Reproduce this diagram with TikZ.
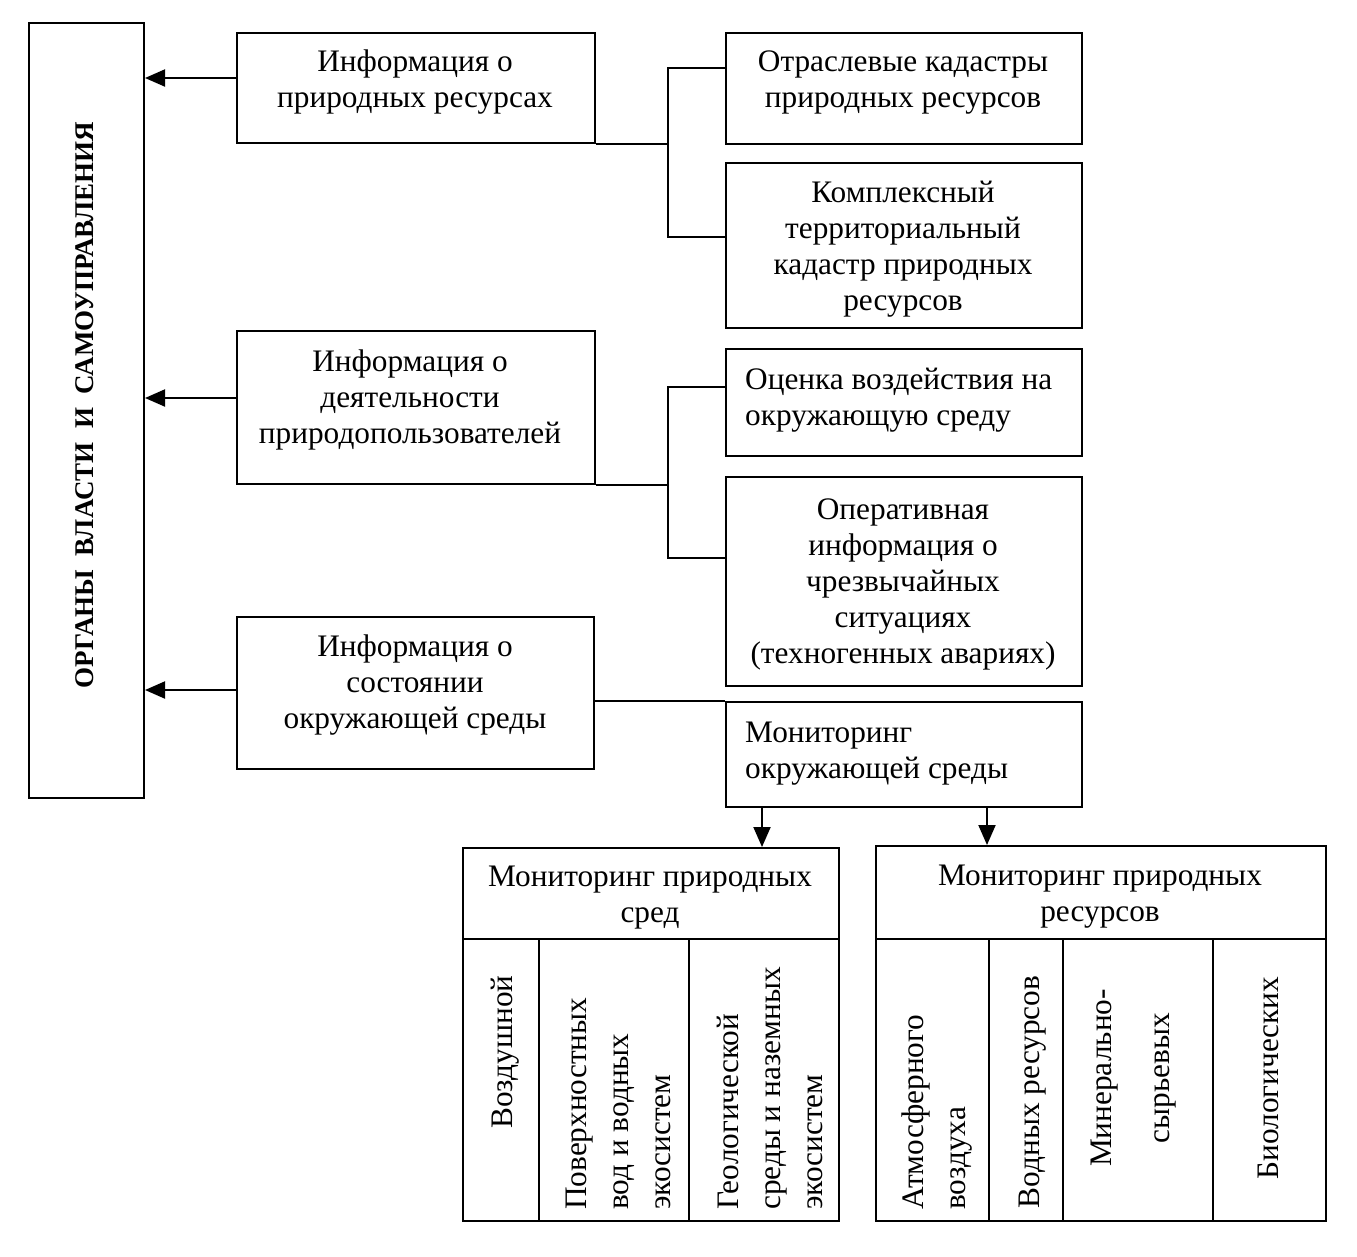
\documentclass[tikz,border=0pt]{standalone}
\usepackage{fontspec}
\setmainfont{Liberation Serif}
\usetikzlibrary{arrows.meta,calc}
\begin{document}
\begin{tikzpicture}[x=1pt,y=-1pt,
  box/.style={draw, line width=2pt, inner sep=0pt, anchor=north west},
  txt/.style={font=\fontsize{31.3}{36}\selectfont, align=center, inner sep=0pt},
  txtl/.style={txt, align=left, anchor=west},
  rot/.style={rotate=90, font=\fontsize{31.3}{42}\selectfont, inner sep=0pt},
  wire/.style={line width=2pt},
  arr/.style={line width=2pt, -{Triangle[length=20pt,width=17pt]}},
]
\useasboundingbox[fill=white] (0,0) rectangle (1357,1256);

% left vertical box
\node[box, minimum width=115pt, minimum height=775pt] (org) at (28,22) {};
\node[rotate=90, font=\fontsize{27}{30}\selectfont\bfseries, inner sep=0pt] (orgt) at (85,405) {ОРГАНЫ~~ВЛАСТИ~~И~~САМОУПРАВЛЕНИЯ};

% information boxes
\node[box, minimum width=358pt, minimum height=110pt] (A) at (236,32) {};
\node[txt] (At) at (415,82) {Информация о\\природных ресурсах};
\node[box, minimum width=358pt, minimum height=153pt] (B) at (236,330) {};
\node[txt] (Bt) at (410,400) {Информация о\\деятельности\\природопользователей};
\node[box, minimum width=357pt, minimum height=152pt] (C) at (236,616) {};
\node[txt] (Ct) at (415,685) {Информация о\\состоянии\\окружающей среды};

% right boxes
\node[box, minimum width=356pt, minimum height=111pt] (R1) at (725,32) {};
\node[txt] (R1t) at (903,83) {Отраслевые кадастры\\природных ресурсов};
\node[box, minimum width=356pt, minimum height=165pt] (R2) at (725,162) {};
\node[txt] (R2t) at (903,249) {Комплексный\\территориальный\\кадастр природных\\ресурсов};
\node[box, minimum width=356pt, minimum height=107pt] (R3) at (725,348) {};
\node[txtl] (R3t) at (745,400) {Оценка воздействия на\\окружающую среду};
\node[box, minimum width=356pt, minimum height=209pt] (R4) at (725,476) {};
\node[txt] (R4t) at (903,584) {Оперативная\\информация о\\чрезвычайных\\ситуациях\\(техногенных авариях)};
\node[box, minimum width=356pt, minimum height=105pt] (R5) at (725,701) {};
\node[txtl] (R5t) at (745,754) {Мониторинг\\окружающей среды};

% lower left table
\node[box, minimum width=376pt, minimum height=91pt] (LLh) at (462,847) {};
\node[txt] (LLht) at (650,898) {Мониторинг природных\\сред};
\node[box, minimum width=76pt, minimum height=282pt] (LL1) at (462,938) {};
\node[box, minimum width=150pt, minimum height=282pt] (LL2) at (538,938) {};
\node[box, minimum width=150pt, minimum height=282pt] (LL3) at (688,938) {};
\node[rot] (LL1t) at (505,1052) {Воздушной};
\node[rot, align=left, anchor=west] (LL2t) at (618,1210) {Поверхностных\\вод и водных\\экосистем};
\node[rot, align=left, anchor=west] (LL3t) at (770,1210) {Геологической\\среды и наземных\\экосистем};

% lower right table
\node[box, minimum width=450pt, minimum height=93pt] (RRh) at (875,845) {};
\node[txt] (RRht) at (1100,897) {Мониторинг природных\\ресурсов};
\node[box, minimum width=113pt, minimum height=282pt] (RR1) at (875,938) {};
\node[box, minimum width=74pt, minimum height=282pt] (RR2) at (988,938) {};
\node[box, minimum width=150pt, minimum height=282pt] (RR3) at (1062,938) {};
\node[box, minimum width=113pt, minimum height=282pt] (RR4) at (1212,938) {};
\node[rot, align=left, anchor=west] (RR1t) at (937,1210) {Атмосферного\\воздуха};
\node[rot] (RR2t) at (1033,1092) {Водных ресурсов};
\node[rot, align=center, font=\fontsize{31.3}{58}\selectfont] (RR3t) at (1134,1078) {Минерально-\\сырьевых};
\node[rot] (RR4t) at (1268,1078) {Биологических};

% bus connectors
\coordinate (j1t) at (668,68);
\coordinate (j1b) at (668,237);
\draw[wire] (A.south east) -- (A.south east -| j1t);
\draw[wire] (R1.west |- j1t) -- (j1t) -- (j1b) -- (R2.west |- j1b);
\coordinate (j2t) at (668,387);
\coordinate (j2b) at (668,558);
\draw[wire] (B.south east) -- (B.south east -| j2t);
\draw[wire] (R3.west |- j2t) -- (j2t) -- (j2b) -- (R4.west |- j2b);
\draw[wire] (C.east |- R5.north west) -- (R5.north west);

% arrows to the authorities
\coordinate (ya) at (0,78);
\coordinate (yb) at (0,398);
\coordinate (yc) at (0,690);
\draw[arr] (A.west |- ya) -- (org.east |- ya);
\draw[arr] (B.west |- yb) -- (org.east |- yb);
\draw[arr] (C.west |- yc) -- (org.east |- yc);

% arrows down
\coordinate (dl) at (762,0);
\coordinate (dr) at (987,0);
\draw[arr] (R5.south -| dl) -- (LLh.north -| dl);
\draw[arr] (R5.south -| dr) -- (RRh.north -| dr);
\end{tikzpicture}
\end{document}
